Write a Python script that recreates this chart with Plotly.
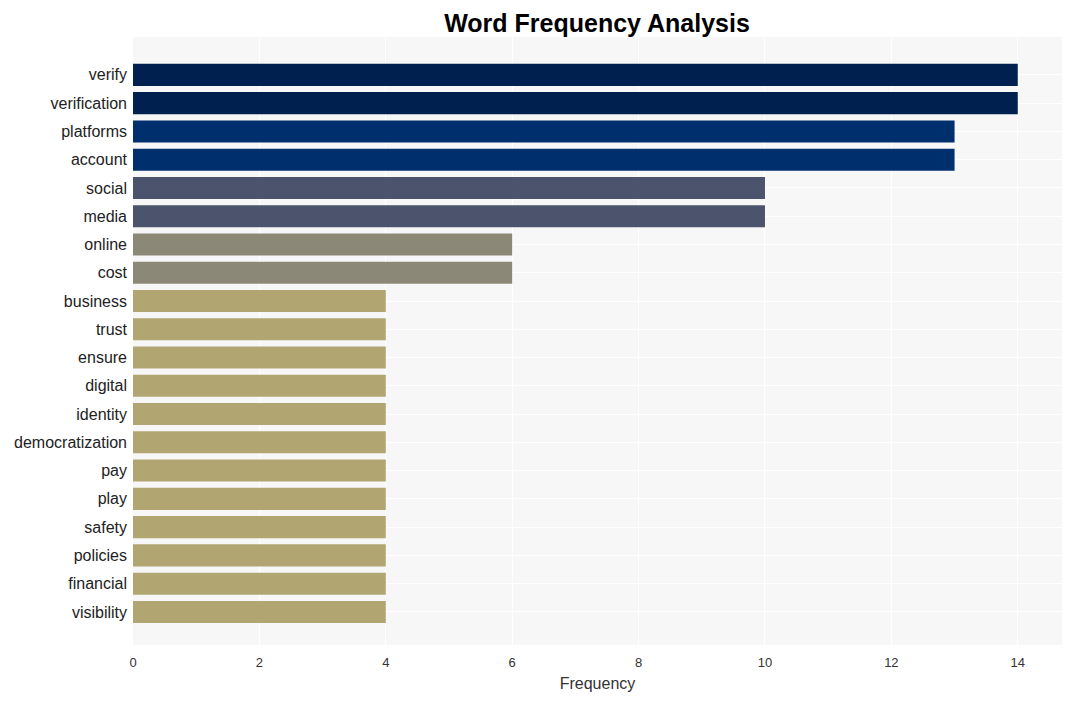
import plotly.graph_objects as go

words = ["verify", "verification", "platforms", "account", "social", "media", "online", "cost",
         "business", "trust", "ensure", "digital", "identity", "democratization", "pay", "play",
         "safety", "policies", "financial", "visibility"]
freqs = [14, 14, 13, 13, 10, 10, 6, 6, 4, 4, 4, 4, 4, 4, 4, 4, 4, 4, 4, 4]
colors = ["#00214f", "#00214f", "#002f6e", "#002f6e", "#4b546c", "#4b546c", "#8c8878", "#8c8878"] + ["#b1a672"] * 12
x_ticks = [0, 2, 4, 6, 8, 10, 12, 14]

fig = go.Figure(go.Bar(
    x=freqs, y=words, orientation="h",
    marker=dict(color=colors, line=dict(width=0)),
    width=0.78,
))

fig.update_layout(
    width=1072, height=701,
    margin=dict(l=125, r=18, t=29, b=64),
    paper_bgcolor="white",
    plot_bgcolor="#f7f7f7",
    font=dict(family="Liberation Sans, Arial, sans-serif", color="#222222"),
    title=dict(text="<b>Word Frequency Analysis</b>", x=589 / 1072, xanchor="center",
               y=1 - 15 / 701, yanchor="middle", font=dict(size=25, color="black")),
    showlegend=False,
)
fig.update_xaxes(
    range=[0, 14.7], tickvals=x_ticks, ticktext=[str(t) for t in x_ticks],
    showgrid=True, gridcolor="white", gridwidth=1, zeroline=False,
    tickfont=dict(size=13, color="#333333"), ticklabelstandoff=8,
    title=dict(text="Frequency", font=dict(size=16, color="#333333"), standoff=8),
    ticks="", showline=False, automargin=False,
)
fig.update_yaxes(
    categoryorder="array", categoryarray=words,
    range=[19 + 1.17, -1.34],
    showgrid=True, gridcolor="white", gridwidth=1, zeroline=False,
    tickfont=dict(size=16, color="#222222"), ticks="", ticklabelstandoff=5,
    automargin=False,
)

fig.write_html("out.html")
